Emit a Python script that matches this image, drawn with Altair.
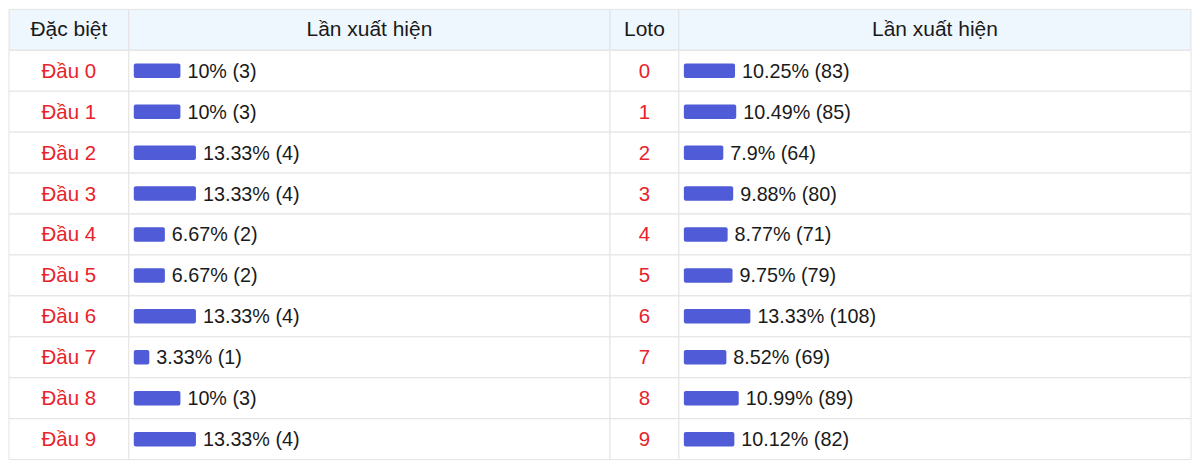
import altair as alt
import pandas as pd

# ---- data ----
dac_biet_labels = ["Đầu 0", "Đầu 1", "Đầu 2", "Đầu 3", "Đầu 4",
                   "Đầu 5", "Đầu 6", "Đầu 7", "Đầu 8", "Đầu 9"]
dac_biet_pct = [10, 10, 13.33, 13.33, 6.67, 6.67, 13.33, 3.33, 10, 13.33]
dac_biet_count = [3, 3, 4, 4, 2, 2, 4, 1, 3, 4]

loto_labels = ["0", "1", "2", "3", "4", "5", "6", "7", "8", "9"]
loto_pct = [10.25, 10.49, 7.9, 9.88, 8.77, 9.75, 13.33, 8.52, 10.99, 10.12]
loto_count = [83, 85, 64, 80, 71, 79, 108, 69, 89, 82]

headers = ["Đặc biệt", "Lần xuất hiện", "Loto", "Lần xuất hiện"]

# ---- styling ----
FONT = "Liberation Sans"
BORDER = "#e3e3e3"
HEADER_FILL = "#eef6fe"
RED = "#e8232b"
BAR = "#505bd8"
TEXT = "#1a1a1a"
H = 451
ROWS = ["h"] + [str(i) for i in range(10)]
WIDTHS = [120, 482, 69, 513]

Y = alt.Y("row:N", scale=alt.Scale(domain=ROWS, paddingInner=0, paddingOuter=0), axis=None)

cells = pd.DataFrame({"row": ROWS})


def background(w):
    return alt.Chart(cells).mark_rect(stroke=BORDER, strokeWidth=1).encode(
        y=Y,
        x=alt.value(0),
        x2=alt.value(w),
        fill=alt.condition("datum.row == 'h'", alt.value(HEADER_FILL), alt.value("white")),
    )


def header_text(w, t):
    df = pd.DataFrame({"row": ["h"], "t": [t]})
    return alt.Chart(df).mark_text(font=FONT, fontSize=21, color=TEXT, baseline="middle", dy=0).encode(
        y=Y, x=alt.value(w / 2), text="t:N"
    )


def label_panel(w, labels, header):
    df = pd.DataFrame({"row": [str(i) for i in range(10)], "t": labels})
    txt = alt.Chart(df).mark_text(font=FONT, fontSize=20.5, color=RED, baseline="middle", dy=1).encode(
        y=Y, x=alt.value(w / 2), text="t:N"
    )
    return alt.layer(background(w), header_text(w, header), txt).properties(width=w, height=H)


def bar_panel(w, pcts, counts, header, px_per_pct):
    df = pd.DataFrame({
        "row": [str(i) for i in range(10)],
        "pct": pcts,
        "label": [f"{p:g}% ({c})" for p, c in zip(pcts, counts)],
    })
    xs = alt.Scale(domain=[0, 100], range=[5, 5 + px_per_pct * 100], zero=False, nice=False)
    bars = alt.Chart(df).mark_bar(height=14.5, cornerRadius=2, color=BAR).encode(
        y=Y, x=alt.X("pct:Q", scale=xs, axis=None), x2=alt.datum(0)
    )
    txt = alt.Chart(df).mark_text(font=FONT, fontSize=19.8, color=TEXT, align="left",
                                  baseline="middle", dx=7, dy=1).encode(
        y=Y, x=alt.X("pct:Q", scale=xs, axis=None), text="label:N"
    )
    return alt.layer(background(w), header_text(w, header), bars, txt).properties(width=w, height=H)


chart = alt.hconcat(
    label_panel(WIDTHS[0], dac_biet_labels, headers[0]),
    bar_panel(WIDTHS[1], dac_biet_pct, dac_biet_count, headers[1], 4.67),
    label_panel(WIDTHS[2], loto_labels, headers[2]),
    bar_panel(WIDTHS[3], loto_pct, loto_count, headers[3], 5.0),
    spacing=0,
    bounds="flush",
).properties(padding=0, background="white").configure_view(stroke="transparent")

chart.save("out.html", embed_options={"renderer": "svg", "actions": False})
